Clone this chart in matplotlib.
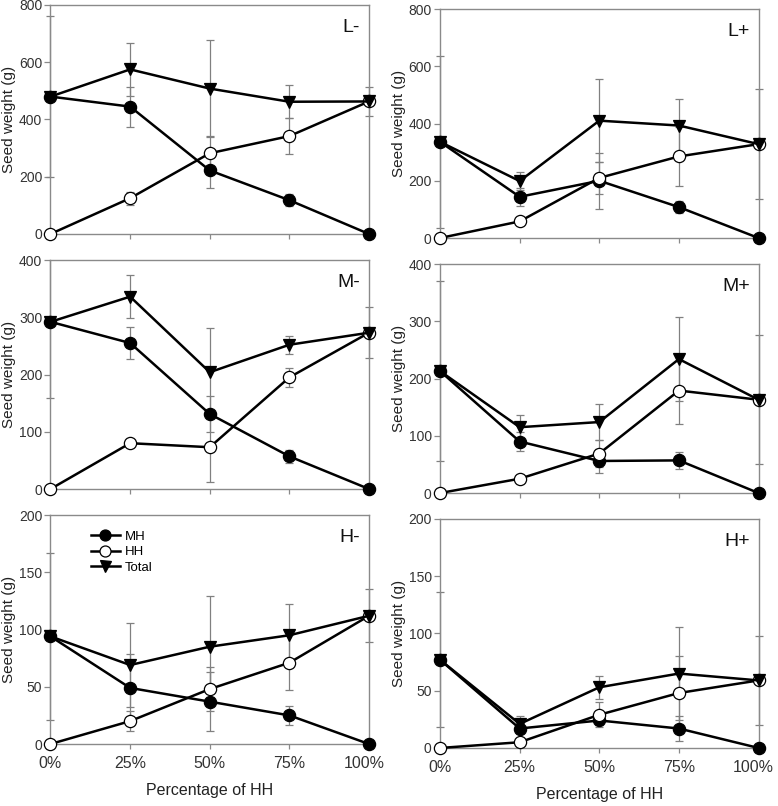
import matplotlib
matplotlib.use("Agg")
import matplotlib.pyplot as plt
from matplotlib.transforms import Bbox, TransformedBbox, ScaledTranslation

plt.rcParams['font.family'] = ['Liberation Sans', 'DejaVu Sans']

# ---------------- data ----------------
x_pct = [0, 25, 50, 75, 100]
x_labels = ["0%", "25%", "50%", "75%", "100%"]
series_names = ["MH", "HH", "Total"]

Lm_MH = [480, 445, 222, 118, 0]
Lm_MH_err = [0, 70, 62, 20, 0]
Lm_HH = [0, 125, 282, 342, 463]
Lm_HH_err = [0, 22, 60, 63, 0]
Lm_Total = [480, 575, 508, 462, 463]
Lm_Total_err = [280, 92, 170, 58, 50]

Lp_MH = [336, 144, 200, 108, 0]
Lp_MH_err = [0, 32, 97, 20, 0]
Lp_HH = [0, 58, 210, 285, 328]
Lp_HH_err = [0, 6, 55, 104, 0]
Lp_Total = [336, 199, 410, 393, 328]
Lp_Total_err = [300, 33, 145, 92, 192]

Mm_MH = [292, 255, 131, 57, 0]
Mm_MH_err = [0, 28, 32, 11, 0]
Mm_HH = [0, 80, 73, 195, 273]
Mm_HH_err = [0, 6, 61, 17, 0]
Mm_Total = [292, 336, 204, 252, 273]
Mm_Total_err = [133, 38, 78, 16, 45]

Mp_MH = [213, 90, 56, 57, 0]
Mp_MH_err = [0, 17, 21, 15, 0]
Mp_HH = [0, 25, 69, 179, 163]
Mp_HH_err = [0, 3, 24, 58, 0]
Mp_Total = [213, 115, 124, 234, 163]
Mp_Total_err = [157, 22, 32, 73, 113]

Hm_MH = [94, 49, 37, 25, 0]
Hm_MH_err = [0, 30, 26, 8, 0]
Hm_HH = [0, 20, 48, 71, 112]
Hm_HH_err = [0, 9, 19, 24, 0]
Hm_Total = [94, 69, 85, 95, 112]
Hm_Total_err = [73, 37, 44, 27, 23]

Hp_MH = [77, 17, 24, 17, 0]
Hp_MH_err = [0, 3, 4, 11, 0]
Hp_HH = [0, 5, 29, 48, 59]
Hp_HH_err = [0, 1, 11, 32, 0]
Hp_Total = [77, 21, 53, 65, 59]
Hp_Total_err = [59, 7, 10, 41, 39]

panel_titles = ["L-", "L+", "M-", "M+", "H-", "H+"]
row_ymax = [800, 400, 200]
row_ystep = [200, 100, 50]

panels = [
    (Lm_MH, Lm_MH_err, Lm_HH, Lm_HH_err, Lm_Total, Lm_Total_err),
    (Lp_MH, Lp_MH_err, Lp_HH, Lp_HH_err, Lp_Total, Lp_Total_err),
    (Mm_MH, Mm_MH_err, Mm_HH, Mm_HH_err, Mm_Total, Mm_Total_err),
    (Mp_MH, Mp_MH_err, Mp_HH, Mp_HH_err, Mp_Total, Mp_Total_err),
    (Hm_MH, Hm_MH_err, Hm_HH, Hm_HH_err, Hm_Total, Hm_Total_err),
    (Hp_MH, Hp_MH_err, Hp_HH, Hp_HH_err, Hp_Total, Hp_Total_err),
]

# ---------------- layout ----------------
fig = plt.figure(figsize=(7.78, 8.06), dpi=100)
col_left = [0.0649, 0.5656]
ax_w = 0.4094
ax_h = 0.2841
bottoms = [[0.7097, 0.7047], [0.3933, 0.3883], [0.0769, 0.0720]]

spine_c = '#8a8a8a'
tick_txt = '#333333'
err_c = '#808080'

marker_styles = [
    dict(marker='o', mfc='black', mec='black'),
    dict(marker='o', mfc='white', mec='black'),
    dict(marker='v', mfc='black', mec='black'),
]

for idx, (title, data) in enumerate(zip(panel_titles, panels)):
    r, c = divmod(idx, 2)
    ax = fig.add_axes([col_left[c], bottoms[r][c], ax_w, ax_h])
    ymax = row_ymax[r]
    step = row_ystep[r]
    clipbox = TransformedBbox(Bbox([[-0.04, 0.0], [1.04, 1.0]]), ax.transAxes)

    vals = [data[0], data[2], data[4]]
    errs = [data[1], data[3], data[5]]
    for k in range(3):
        eb = ax.errorbar(x_pct, vals[k], yerr=errs[k], fmt='none', ecolor=err_c,
                         elinewidth=0.9, capsize=3.2, capthick=0.9, zorder=2)
        for art in list(eb.lines[1]) + list(eb.lines[2]):
            art.set_clip_box(clipbox)
    for k in range(3):
        ax.plot(x_pct, vals[k], color='black', lw=1.8, ms=8.8, mew=0.9,
                label=series_names[k], clip_on=False, zorder=4 + k * 0.1,
                **marker_styles[k])

    ax.set_xlim(0, 100)
    ax.set_ylim(0, ymax)
    ax.set_yticks(range(0, ymax + 1, step))
    ax.set_xticks(x_pct)
    for sp in ax.spines.values():
        sp.set_color(spine_c)
        sp.set_linewidth(1.0)
    ax.tick_params(axis='both', direction='out', color=spine_c, width=0.9,
                   labelcolor=tick_txt)
    ax.tick_params(axis='y', length=4, labelsize=10, pad=2)
    ax.tick_params(axis='x', length=3.5, labelsize=11.5, pad=5)
    if r < 2:
        ax.set_xticklabels([])
    else:
        ax.set_xticklabels(x_labels)
        last = ax.get_xticklabels()[-1]
        last.set_transform(last.get_transform() +
                           ScaledTranslation(-5 / 100, 0, fig.dpi_scale_trans))
        ax.set_xlabel("Percentage of HH", fontsize=11.5, color='#222222', labelpad=9)
    ax.set_ylabel("Seed weight (g)", fontsize=11, color='#222222', labelpad=2)
    ax.text(0.972, 0.94, title, transform=ax.transAxes, ha='right', va='top',
            fontsize=14, color='#111111')

    if idx == 4:
        ax.legend(loc='upper left', bbox_to_anchor=(0.11, 0.955), frameon=False,
                  fontsize=9.5, handlelength=2.2, handletextpad=0.35,
                  labelspacing=0.25, markerscale=0.9, borderaxespad=0)

fig.savefig("out.png", dpi=100)
